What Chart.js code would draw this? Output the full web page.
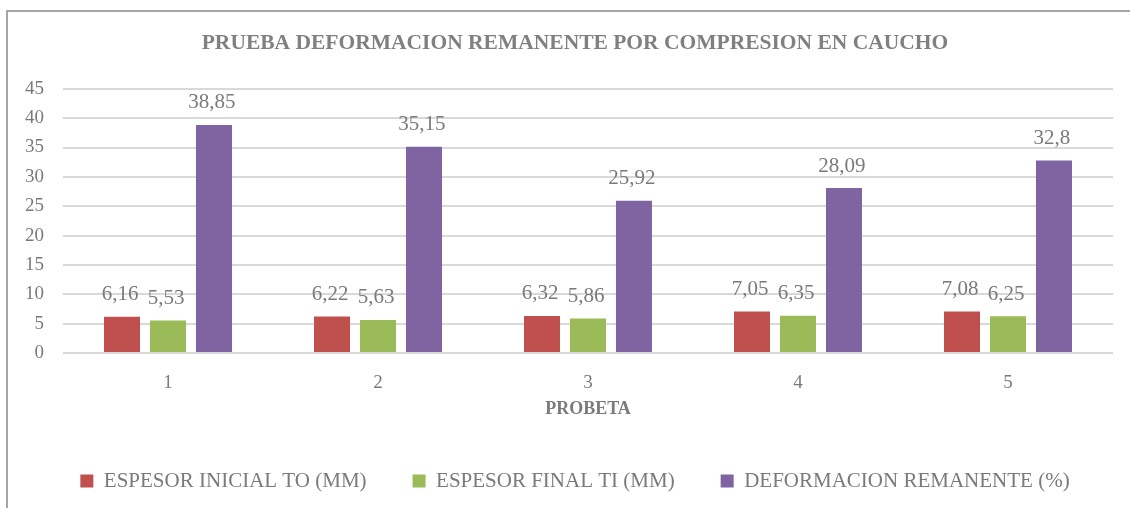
<!DOCTYPE html>
<html><head><meta charset="utf-8">
<script src="https://cdn.jsdelivr.net/npm/chart.js@4"></script>
<style>
html,body{margin:0;padding:0;background:#fff;overflow:hidden;width:1130px;height:508px;}
#frame{position:absolute;left:6px;top:10px;width:1200px;height:600px;border:2px solid #a6a6a6;box-sizing:border-box;}
#wrap{position:absolute;left:0;top:0;width:1130px;height:508px;}
</style></head><body>
<div id="frame"></div>
<div id="wrap"><canvas id="c"></canvas></div>
<script>
const categories = ['1', '2', '3', '4', '5'];
const espesorInicial = [6.16, 6.22, 6.32, 7.05, 7.08];
const espesorFinal = [5.53, 5.63, 5.86, 6.35, 6.25];
const deformacion = [38.85, 35.15, 25.92, 28.09, 32.8];
const seriesNames = ['ESPESOR INICIAL TO (MM)', 'ESPESOR FINAL TI (MM)', 'DEFORMACION REMANENTE (%)'];
const seriesColors = ['#C0504D', '#9BBB59', '#8064A2'];
const yMin = 0, yMax = 45, yStep = 5;
const titleText = 'PRUEBA DEFORMACION REMANENTE POR COMPRESION EN CAUCHO';
const xTitleText = 'PROBETA';

const FONT = '"Liberation Serif", "Times New Roman", serif';
const TXT = '#7a7a7a';

const valueLabels = {
  id: 'valueLabels',
  afterDatasetsDraw(chart) {
    const ctx = chart.ctx;
    ctx.save();
    ctx.font = '21px ' + FONT;
    ctx.fillStyle = TXT;
    ctx.textAlign = 'center';
    ctx.textBaseline = 'middle';
    chart.data.datasets.forEach((ds, i) => {
      chart.getDatasetMeta(i).data.forEach((bar, j) => {
        ctx.fillText(String(ds.data[j]).replace('.', ','), bar.x - 2, bar.y - 22);
      });
    });
    ctx.restore();
  }
};

// the original chart frame is wider than the visible crop: centre title and legend on it
const shiftBoxes = {
  id: 'shiftBoxes',
  afterLayout(chart) {
    const dx = 18.5;
    [chart.titleBlock, chart.legend].forEach(b => {
      if (b) { b.left += dx; b.right += dx; }
    });
  }
};

new Chart(document.getElementById('c'), {
  type: 'bar',
  data: {
    labels: categories,
    datasets: [
      { label: seriesNames[0], data: espesorInicial, backgroundColor: seriesColors[0] },
      { label: seriesNames[1], data: espesorFinal, backgroundColor: seriesColors[1] },
      { label: seriesNames[2], data: deformacion, backgroundColor: seriesColors[2] }
    ]
  },
  options: {
    responsive: true,
    maintainAspectRatio: false,
    animation: false,
    devicePixelRatio: 1,
    layout: { padding: { left: 0, right: 17, top: 0, bottom: 6.5 } },
    datasets: { bar: { categoryPercentage: 0.657, barPercentage: 0.783 } },
    scales: {
      x: {
        grid: { display: false },
        border: { display: false },
        ticks: { color: TXT, font: { family: FONT, size: 19 }, padding: 11 },
        title: { display: true, text: xTitleText, color: TXT, font: { family: FONT, size: 18, weight: 'bold' }, padding: { top: 0, bottom: 4.7 } },
        afterFit(scale) { scale.height = 71.5; }
      },
      y: {
        min: yMin, max: yMax,
        grid: { color: '#d9d9d9', lineWidth: 2, drawTicks: false },
        border: { display: false },
        ticks: { stepSize: yStep, color: TXT, font: { family: FONT, size: 19 }, padding: 19, autoSkip: false },
        afterFit(scale) { scale.width = 63; }
      }
    },
    plugins: {
      title: {
        display: true, text: titleText, color: '#808080',
        font: { family: FONT, size: 21.5, weight: 'bold' },
        padding: { top: 31, bottom: 32 }
      },
      legend: {
        position: 'bottom',
        labels: { color: TXT, font: { family: FONT, size: 21 }, boxWidth: 13, boxHeight: 13, padding: 46 }
      },
      tooltip: { enabled: false }
    }
  },
  plugins: [valueLabels, shiftBoxes]
});
</script>
</body></html>
